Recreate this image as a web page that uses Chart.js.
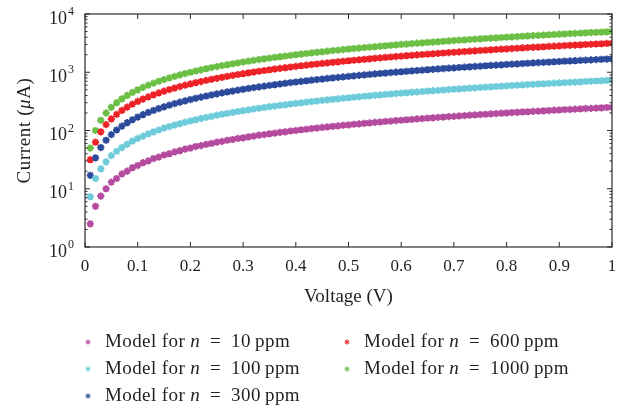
<!DOCTYPE html>
<html>
<head>
<meta charset="utf-8">
<script src="https://cdn.jsdelivr.net/npm/chart.js@4.4.0/dist/chart.umd.min.js"></script>
<style>
  html, body { margin: 0; padding: 0; background: #fff; }
</style>
</head>
<body>
<canvas id="ivChart" width="637" height="413"></canvas>
<script>
// voltage (V), one point every 0.01 V
const voltage = [
  0.01, 0.02, 0.03, 0.04, 0.05, 0.06, 0.07, 0.08, 0.09, 0.10,
  0.11, 0.12, 0.13, 0.14, 0.15, 0.16, 0.17, 0.18, 0.19, 0.20,
  0.21, 0.22, 0.23, 0.24, 0.25, 0.26, 0.27, 0.28, 0.29, 0.30,
  0.31, 0.32, 0.33, 0.34, 0.35, 0.36, 0.37, 0.38, 0.39, 0.40,
  0.41, 0.42, 0.43, 0.44, 0.45, 0.46, 0.47, 0.48, 0.49, 0.50,
  0.51, 0.52, 0.53, 0.54, 0.55, 0.56, 0.57, 0.58, 0.59, 0.60,
  0.61, 0.62, 0.63, 0.64, 0.65, 0.66, 0.67, 0.68, 0.69, 0.70,
  0.71, 0.72, 0.73, 0.74, 0.75, 0.76, 0.77, 0.78, 0.79, 0.80,
  0.81, 0.82, 0.83, 0.84, 0.85, 0.86, 0.87, 0.88, 0.89, 0.90,
  0.91, 0.92, 0.93, 0.94, 0.95, 0.96, 0.97, 0.98, 0.99, 1.00
]

// current (uA) for each concentration
const current10 = [
  2.5, 5, 7.5, 10, 13, 15, 18, 20, 23, 25,
  28, 30, 33, 35, 38, 40, 43, 45, 48, 50,
  53, 55, 58, 60, 63, 65, 68, 70, 73, 75,
  78, 80, 83, 85, 88, 90, 93, 95, 98, 100,
  103, 105, 108, 110, 113, 115, 118, 120, 123, 125,
  128, 130, 133, 135, 138, 140, 143, 145, 148, 150,
  153, 155, 158, 160, 163, 165, 168, 170, 173, 175,
  178, 180, 183, 185, 188, 190, 193, 195, 198, 200,
  203, 205, 208, 210, 213, 215, 218, 220, 223, 225,
  228, 230, 233, 235, 238, 240, 243, 245, 248, 250
]
const current100 = [
  7.3, 15, 22, 29, 37, 44, 51, 58, 66, 73,
  80, 88, 95, 102, 110, 117, 124, 131, 139, 146,
  153, 161, 168, 175, 183, 190, 197, 204, 212, 219,
  226, 234, 241, 248, 256, 263, 270, 277, 285, 292,
  299, 307, 314, 321, 329, 336, 343, 350, 358, 365,
  372, 380, 387, 394, 402, 409, 416, 423, 431, 438,
  445, 453, 460, 467, 475, 482, 489, 496, 504, 511,
  518, 526, 533, 540, 548, 555, 562, 569, 577, 584,
  591, 599, 606, 613, 621, 628, 635, 642, 650, 657,
  664, 672, 679, 686, 694, 701, 708, 715, 723, 730
]
const current300 = [
  17, 34, 51, 68, 85, 102, 119, 136, 153, 170,
  187, 204, 221, 238, 255, 272, 289, 306, 323, 340,
  357, 374, 391, 408, 425, 442, 459, 476, 493, 510,
  527, 544, 561, 578, 595, 612, 629, 646, 663, 680,
  697, 714, 731, 748, 765, 782, 799, 816, 833, 850,
  867, 884, 901, 918, 935, 952, 969, 986, 1003, 1020,
  1037, 1054, 1071, 1088, 1105, 1122, 1139, 1156, 1173, 1190,
  1207, 1224, 1241, 1258, 1275, 1292, 1309, 1326, 1343, 1360,
  1377, 1394, 1411, 1428, 1445, 1462, 1479, 1496, 1513, 1530,
  1547, 1564, 1581, 1598, 1615, 1632, 1649, 1666, 1683, 1700
]
const current600 = [
  31.5, 63, 95, 126, 158, 189, 221, 252, 284, 315,
  347, 378, 410, 441, 473, 504, 536, 567, 599, 630,
  662, 693, 725, 756, 788, 819, 851, 882, 914, 945,
  977, 1008, 1040, 1071, 1103, 1134, 1166, 1197, 1229, 1260,
  1292, 1323, 1355, 1386, 1418, 1449, 1481, 1512, 1544, 1575,
  1607, 1638, 1670, 1701, 1733, 1764, 1796, 1827, 1859, 1890,
  1922, 1953, 1985, 2016, 2048, 2079, 2111, 2142, 2174, 2205,
  2237, 2268, 2300, 2331, 2363, 2394, 2426, 2457, 2489, 2520,
  2552, 2583, 2615, 2646, 2678, 2709, 2741, 2772, 2804, 2835,
  2867, 2898, 2930, 2961, 2993, 3024, 3056, 3087, 3119, 3150
]
const current1000 = [
  50, 100, 150, 200, 250, 300, 350, 400, 450, 500,
  550, 600, 650, 700, 750, 800, 850, 900, 950, 1000,
  1050, 1100, 1150, 1200, 1250, 1300, 1350, 1400, 1450, 1500,
  1550, 1600, 1650, 1700, 1750, 1800, 1850, 1900, 1950, 2000,
  2050, 2100, 2150, 2200, 2250, 2300, 2350, 2400, 2450, 2500,
  2550, 2600, 2650, 2700, 2750, 2800, 2850, 2900, 2950, 3000,
  3050, 3100, 3150, 3200, 3250, 3300, 3350, 3400, 3450, 3500,
  3550, 3600, 3650, 3700, 3750, 3800, 3850, 3900, 3950, 4000,
  4050, 4100, 4150, 4200, 4250, 4300, 4350, 4400, 4450, 4500,
  4550, 4600, 4650, 4700, 4750, 4800, 4850, 4900, 4950, 5000
]

const concentrations = ['10', '100', '300', '600', '1000']
const seriesColors = ['#b44b9f', '#6dcbda', '#2b4a9c', '#ec2227', '#6bbf45']
const yTickValues = [1, 10, 100, 1000, 10000]
const yTickExponents = ['0', '1', '2', '3', '4']
const minorSteps = [2, 3, 4, 5, 6, 7, 8, 9]

const serif = '"Liberation Serif", "Times New Roman", serif'
const ink = '#231f20'

function toPoints (ys) {
  return voltage.map((v, i) => ({ x: v, y: ys[i] }))
}

const allCurrents = [current10, current100, current300, current600, current1000]
const datasets = allCurrents.map((ys, i) => ({
  label: `Model for n = ${concentrations[i]} ppm`,
  data: toPoints(ys),
  pointStyle: 'star',
  pointRadius: 3.6,
  pointBorderWidth: 1.9,
  borderColor: seriesColors[i],
  backgroundColor: seriesColors[i],
  showLine: false
}))

// draw text made of plain and italic pieces, left to right
function drawPieces (ctx, pieces, x, y, size) {
  let tx = x
  pieces.forEach(p => {
    ctx.font = p[1] + size + 'px ' + serif
    ctx.fillText(p[0], tx, y)
    tx += ctx.measureText(p[0]).width
  })
  return tx
}

function piecesWidth (ctx, pieces, size) {
  let w = 0
  pieces.forEach(p => {
    ctx.font = p[1] + size + 'px ' + serif
    w += ctx.measureText(p[0]).width
  })
  return w
}

// box frame, inward ticks, 10^k labels, y title and the legend
const decorations = {
  id: 'decorations',
  afterDraw (chart) {
    const { ctx, chartArea: a } = chart
    const xs = chart.scales.x
    const ys = chart.scales.y
    ctx.save()
    ctx.strokeStyle = '#2b2b2b'
    ctx.lineWidth = 1.2
    ctx.strokeRect(a.left, a.top, a.right - a.left, a.bottom - a.top)

    ctx.beginPath()
    xs.ticks.forEach(t => {
      const px = xs.getPixelForValue(t.value)
      ctx.moveTo(px, a.bottom); ctx.lineTo(px, a.bottom - 5)
      ctx.moveTo(px, a.top); ctx.lineTo(px, a.top + 5)
    })
    yTickValues.forEach((val, k) => {
      const py = ys.getPixelForValue(val)
      ctx.moveTo(a.left, py); ctx.lineTo(a.left + 5, py)
      ctx.moveTo(a.right, py); ctx.lineTo(a.right - 5, py)
      if (k === yTickValues.length - 1) return
      minorSteps.forEach(m => {
        const pm = ys.getPixelForValue(val * m)
        ctx.moveTo(a.left, pm); ctx.lineTo(a.left + 2.5, pm)
        ctx.moveTo(a.right, pm); ctx.lineTo(a.right - 2.5, pm)
      })
    })
    ctx.lineWidth = 1
    ctx.stroke()

    // y tick labels as 10 with a raised exponent
    ctx.fillStyle = ink
    ctx.textBaseline = 'middle'
    yTickValues.forEach((val, k) => {
      const py = ys.getPixelForValue(val)
      ctx.font = '12px ' + serif
      ctx.textAlign = 'left'
      const ew = ctx.measureText(yTickExponents[k]).width
      ctx.fillText(yTickExponents[k], a.left - 11 - ew, py - 2)
      ctx.font = '18px ' + serif
      ctx.textAlign = 'right'
      ctx.fillText('10', a.left - 12 - ew, py + 5)
    })

    // y axis title with italic mu
    ctx.save()
    ctx.letterSpacing = '0.6px'
    ctx.translate(25, (a.top + a.bottom) / 2)
    ctx.rotate(-Math.PI / 2)
    ctx.textAlign = 'left'
    const titleParts = [['Current (', ''], ['\u03bc', 'italic '], ['A)', '']]
    const tw = piecesWidth(ctx, titleParts, 19)
    drawPieces(ctx, titleParts, -tw / 2, 0, 19)
    ctx.restore()

    // legend in two columns
    const colX = [88, 347]
    const rowY = [342, 369, 396]
    ctx.letterSpacing = '0.4px'
    concentrations.forEach((c, i) => {
      const col = i < 3 ? 0 : 1
      const row = i < 3 ? i : i - 3
      const mx = colX[col]
      const my = rowY[row]
      ctx.strokeStyle = seriesColors[i]
      ctx.fillStyle = seriesColors[i]
      Chart.helpers.drawPoint(ctx, { pointStyle: 'star', radius: 2.6, borderWidth: 1.5, rotation: 0 }, mx, my)
      ctx.fillStyle = ink
      ctx.textAlign = 'left'
      const bits = [['Model for ', ''], ['n', 'italic '], ['\u2002=\u2002', ''], [c + '\u2009ppm', '']]
      drawPieces(ctx, bits, mx + 17, my, 19)
    })
    ctx.restore()
  }
}

new Chart(document.getElementById('ivChart'), {
  type: 'scatter',
  data: { datasets },
  options: {
    responsive: false,
    animation: false,
    layout: { padding: { top: 14, right: 25, bottom: 103, left: 0 } },
    plugins: {
      legend: { display: false },
      tooltip: { enabled: false }
    },
    scales: {
      x: {
        type: 'linear',
        min: 0,
        max: 1,
        grid: { display: false, drawTicks: false },
        border: { display: false },
        ticks: {
          stepSize: 0.1,
          padding: 9,
          color: ink,
          font: { family: serif, size: 17 },
          maxRotation: 0,
          callback: (value) => String(Number(value.toFixed(1)))
        },
        title: {
          display: true,
          text: 'Voltage (V)',
          color: ink,
          font: { family: serif, size: 19 },
          padding: { top: 0, bottom: 2 }
        },
        afterFit: (scale) => { scale.height = 63 }
      },
      y: {
        type: 'logarithmic',
        min: 1,
        max: 10000,
        grid: { display: false, drawTicks: false },
        border: { display: false },
        ticks: { display: false },
        afterFit: (scale) => { scale.width = 85 }
      }
    }
  },
  plugins: [decorations]
})
</script>
</body>
</html>
